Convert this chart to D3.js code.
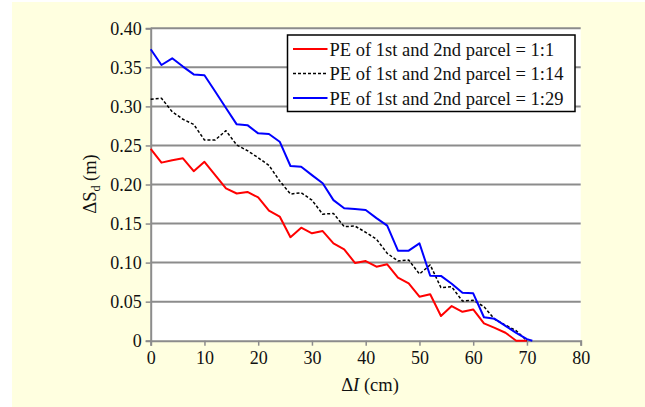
<!DOCTYPE html>
<html><head><meta charset="utf-8">
<script src="https://cdn.jsdelivr.net/npm/d3@7"></script>
<style>
html,body{margin:0;padding:0;background:#fff;}
svg{display:block;}
svg text{font-family:"Liberation Serif","Times New Roman",serif !important;fill:#111;}
</style></head>
<body><svg id="c" width="645" height="407"></svg>
<script>
const dl = [0,2,4,6,8,10,12,14,16,18,20,22,24,26,28,30,32,34,36,38,40,42,44,46,48,50,52,54,56,58,60,62,64,66,68,70];
const dlBlue = dl.concat([71]);
const seriesRed = [0.2455,0.228,0.231,0.2335,0.217,0.229,0.212,0.195,0.1885,0.1905,0.1835,0.1665,0.159,0.1325,0.1447,0.1375,0.1404,0.1247,0.117,0.0995,0.102,0.0948,0.0978,0.0807,0.0735,0.0563,0.0594,0.0316,0.0444,0.037,0.040,0.0222,0.0165,0.0102,0,0];
const seriesBlack = [0.309,0.3104,0.2932,0.2835,0.277,0.257,0.257,0.2689,0.2506,0.2433,0.2343,0.2245,0.2045,0.1878,0.1895,0.180,0.162,0.163,0.146,0.1468,0.1388,0.130,0.1119,0.102,0.1033,0.0854,0.097,0.068,0.069,0.0508,0.0517,0.0436,0.0274,0.020,0.0128,0];
const seriesBlue = [0.3731,0.353,0.3616,0.351,0.341,0.3398,0.319,0.298,0.277,0.276,0.2655,0.2647,0.2548,0.2237,0.2228,0.212,0.2015,0.180,0.1695,0.1685,0.1673,0.157,0.1473,0.1153,0.1153,0.1247,0.0832,0.083,0.073,0.0615,0.0607,0.030,0.028,0.019,0.010,0.002,0];
const legendLabels = ["PE of 1st and 2nd parcel = 1:1","PE of 1st and 2nd parcel = 1:14","PE of 1st and 2nd parcel = 1:29"];
const xTicks = [0,10,20,30,40,50,60,70,80];
const yTicks = [0,0.05,0.10,0.15,0.20,0.25,0.30,0.35,0.40];

const svg = d3.select("#c");
svg.append("rect").attr("x",12).attr("y",2).attr("width",633).attr("height",405).attr("fill","#FFFFE0");

const L=150.7, R=580.7, T=28.3, B=340.7;
const x = d3.scaleLinear().domain([0,80]).range([L,R]);
const y = d3.scaleLinear().domain([0,0.40]).range([B,T]);

svg.append("rect").attr("x",L).attr("y",T).attr("width",R-L).attr("height",B-T).attr("fill","#fff");

// gridlines
svg.append("g").selectAll("line").data(yTicks.filter(d=>d>0)).join("line")
  .attr("x1",L).attr("x2",R).attr("y1",d=>y(d)).attr("y2",d=>y(d))
  .attr("stroke","#8c8c8c").attr("stroke-width",2);

// axes
const gx = svg.append("g").attr("transform",`translate(0,${B})`)
  .call(d3.axisBottom(x).tickValues(xTicks).tickSize(5).tickPadding(6).tickFormat(d3.format("d")));
const gy = svg.append("g").attr("transform",`translate(${L},0)`)
  .call(d3.axisLeft(y).tickValues(yTicks).tickSize(5).tickPadding(4).tickFormat(d=>d===0?"0":d3.format(".2f")(d)));
[gx,gy].forEach(g=>{
  g.attr("font-family",null).attr("font-size",null);
  g.select(".domain").attr("stroke","#8c8c8c").attr("stroke-width",2);
  g.selectAll(".tick line").attr("stroke","#8c8c8c").attr("stroke-width",1.5);
  g.selectAll("text").style("font-size","18px").style("font-family","'Liberation Serif', serif").attr("fill","#111");
});

const line = d3.line().x(d=>x(d[0])).y(d=>y(d[1]));
const defs = [
  {xs:dl, ys:seriesRed, color:"#FF0000", w:2, dash:null},
  {xs:dl, ys:seriesBlack, color:"#000000", w:1.5, dash:"3,2"},
  {xs:dlBlue, ys:seriesBlue, color:"#0000FF", w:2, dash:null}
];
defs.forEach(s=>{
  svg.append("path").datum(s.xs.map((v,i)=>[v,s.ys[i]]))
    .attr("d",line).attr("fill","none").attr("stroke",s.color)
    .attr("stroke-width",s.w).attr("stroke-dasharray",s.dash).attr("stroke-linejoin","round");
});

// legend
const lg = svg.append("g");
lg.append("rect").attr("x",287.5).attr("y",35).attr("width",287.5).attr("height",76.5)
  .attr("fill","#fff").attr("stroke","#000").attr("stroke-width",1.5);
const rowsY = [49,73.5,98];
defs.forEach((s,i)=>{
  lg.append("line").attr("x1",293).attr("x2",327.5).attr("y1",rowsY[i]).attr("y2",rowsY[i])
    .attr("stroke",s.color).attr("stroke-width",s.w).attr("stroke-dasharray",s.dash);
  lg.append("text").attr("x",329.5).attr("y",rowsY[i]+6.5).style("font-size","18.5px").text(legendLabels[i]);
});

// axis titles
const yt = svg.append("text").attr("transform","translate(96,184) rotate(-90)")
  .attr("text-anchor","middle").style("font-size","18.5px");
yt.append("tspan").text("\u0394S");
yt.append("tspan").style("font-size","12px").attr("dy",4).text("d");
yt.append("tspan").attr("dy",-4).text(" (m)");

const xt = svg.append("text").attr("x",370).attr("y",391).attr("text-anchor","middle").style("font-size","18.5px");
xt.append("tspan").text("\u0394");
xt.append("tspan").attr("font-style","italic").text("I");
xt.append("tspan").text(" (cm)");
</script></body></html>
